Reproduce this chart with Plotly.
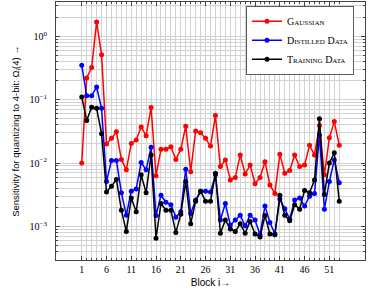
import plotly.graph_objects as go

blocks = list(range(1, 54))
gaussian = [0.010, 0.22, 0.32, 1.68, 0.51, 0.020, 0.0245, 0.031, 0.0114, 0.0078,
            0.0204, 0.023, 0.037, 0.027, 0.075, 0.0063, 0.0165, 0.0165, 0.018, 0.0114,
            0.0165, 0.038, 0.0073, 0.032, 0.030, 0.0245, 0.0185, 0.056, 0.0088, 0.0112,
            0.0054, 0.0059, 0.0134, 0.0067, 0.0093, 0.0047, 0.0059, 0.0105, 0.0045, 0.0033,
            0.0137, 0.0069, 0.0076, 0.0134, 0.0088, 0.0093, 0.019, 0.0134, 0.039, 0.0065,
            0.025, 0.045, 0.019]
distilled = [0.35, 0.115, 0.115, 0.158, 0.073, 0.0051, 0.011, 0.011, 0.0034, 0.0015,
             0.0036, 0.0039, 0.0102, 0.0078, 0.0177, 0.00148, 0.0031, 0.0024, 0.0022, 0.0014,
             0.0017, 0.0080, 0.0016, 0.0026, 0.0036, 0.0036, 0.0035, 0.0065, 0.00126, 0.0023,
             0.00105, 0.00126, 0.0015, 0.00102, 0.0015, 0.00126, 0.00074, 0.0021, 0.00115, 0.00076,
             0.0027, 0.0019, 0.0013, 0.0026, 0.0028, 0.0021, 0.0030, 0.0033, 0.0276, 0.00187,
             0.0051, 0.0112, 0.0049]
training = [0.11, 0.047, 0.076, 0.073, 0.029, 0.0035, 0.0043, 0.0055, 0.0018, 0.00083,
            0.0028, 0.0017, 0.0065, 0.0034, 0.0134, 0.00065, 0.0023, 0.0018, 0.0018, 0.00080,
            0.00155, 0.0051, 0.0011, 0.0025, 0.0036, 0.0025, 0.0025, 0.0069, 0.00078, 0.00126,
            0.00091, 0.00083, 0.0011, 0.00078, 0.0012, 0.00076, 0.00068, 0.00148, 0.00076, 0.00074,
            0.0031, 0.0015, 0.00123, 0.0022, 0.00187, 0.0037, 0.0034, 0.0054, 0.050, 0.0032,
            0.0100, 0.0145, 0.0025]

x_ticks = [1, 6, 11, 16, 21, 26, 31, 36, 41, 46, 51]
y_tickvals = [1e-3, 1e-2, 1e-1, 1]
y_ticktext = ["10<sup>−3</sup>", "10<sup>−2</sup>", "10<sup>−1</sup>", "10<sup>0</sup>"]
y_minor = [k * 10.0 ** e for e in range(-4, 1) for k in range(2, 10)]

series = [("Gaussian", gaussian, "#ff0000"),
          ("Distilled Data", distilled, "#0000ff"),
          ("Training Data", training, "#000000")]

fig = go.Figure()
for name, vals, col in series:
    fig.add_trace(go.Scatter(x=blocks, y=vals, name=name, mode="lines+markers",
                             line=dict(color=col, width=1.5),
                             marker=dict(color=col, size=5)))

grid_col = "#d3d3d3"
fig.update_layout(
    width=374, height=293,
    margin=dict(l=56, r=9, t=2, b=33),
    plot_bgcolor="white", paper_bgcolor="white",
    font=dict(family="Liberation Serif", size=10, color="black"),
    legend=dict(x=0.965, y=0.985, xanchor="right", yanchor="top",
                bgcolor="white", bordercolor="#333", borderwidth=0.8,
                font=dict(family="Liberation Serif", size=10, variant="small-caps"),
                itemwidth=30, tracegroupgap=0),
    xaxis=dict(range=[-4.2, 58.2], tickvals=x_ticks, ticks="inside", ticklen=4,
               showline=True, linecolor="#444", linewidth=1, mirror="ticks",
               showgrid=True, gridcolor=grid_col, gridwidth=0.8, zeroline=False,
               automargin=False,
               tickfont=dict(family="Liberation Serif", size=10),
               minor=dict(tickmode="array", tickvals=blocks, ticks="inside", ticklen=2,
                          showgrid=True, gridcolor=grid_col, gridwidth=0.6),
               title=dict(text="Block i→", font=dict(family="Liberation Sans", size=10),
                          standoff=4)),
    yaxis=dict(type="log", range=[-3.53, 0.54], tickvals=y_tickvals, ticktext=y_ticktext,
               ticks="inside", ticklen=4, showline=True, linecolor="#444", linewidth=1,
               mirror="ticks", showgrid=True, gridcolor=grid_col, gridwidth=0.8,
               zeroline=False, ticklabelstandoff=6, automargin=False,
               tickfont=dict(family="Liberation Serif", size=10),
               minor=dict(tickmode="array", tickvals=y_minor, ticks="inside", ticklen=2,
                          showgrid=True, gridcolor=grid_col, gridwidth=0.6),
               title=dict(text="Sensitivity for quantizing to 4-bit: Ω<sub>i</sub>(4) →",
                          font=dict(family="Liberation Sans", size=9.5), standoff=8)),
)

fig.write_html("out.html", config={"displayModeBar": False},
               post_script="document.body.style.margin='0';document.body.style.overflow='hidden';")
